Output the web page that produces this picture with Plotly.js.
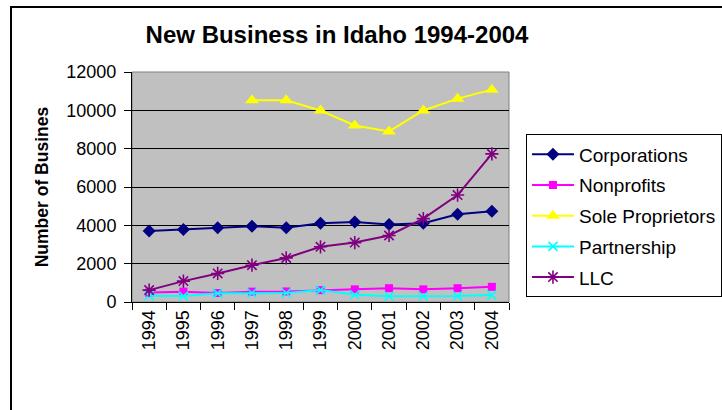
<!DOCTYPE html>
<html>
<head>
<meta charset="utf-8">
<script src="https://cdn.plot.ly/plotly-3.0.1.min.js"></script>
<style>
html,body{margin:0;padding:0;width:722px;height:410px;overflow:hidden;background:#fff;}
#frame{position:absolute;left:10px;top:6px;width:800px;height:500px;border:2px solid #000;box-sizing:border-box;}
#chart{position:absolute;left:0;top:0;width:722px;height:410px;}
</style>
</head>
<body>
<div id="frame"></div>
<div id="chart"></div>
<script>
const years = ["1994","1995","1996","1997","1998","1999","2000","2001","2002","2003","2004"];
const corporations = [3710, 3780, 3880, 3950, 3880, 4110, 4180, 4040, 4110, 4580, 4730];
const nonprofits = [490, 540, 470, 540, 550, 620, 660, 720, 660, 720, 790];
const soleProprietors = [null, null, null, 10520, 10520, 9990, 9210, 8900, 9990, 10610, 11080];
const partnership = [330, 310, 450, 470, 470, 620, 380, 300, 300, 310, 360];
const llc = [620, 1090, 1490, 1920, 2300, 2880, 3100, 3470, 4350, 5580, 7730];

const FONT = '"Liberation Sans", Arial, sans-serif';

function tr(name, y, color, symbol, size, open) {
  return {
    type: 'scatter', mode: 'lines+markers', name: name, x: years, y: y,
    legendgroup: name,
    line: {color: color, width: 2},
    marker: open ? {symbol: symbol, size: size, color: color, line: {color: color, width: 1.6}}
                 : {symbol: symbol, size: size, color: color, line: {width: 0}},
    connectgaps: false
  };
}

const data = [
  tr('Corporations', corporations, '#000080', 'diamond', 10, false),
  tr('Nonprofits', nonprofits, '#FF00FF', 'square', 8, false),
  tr('Sole Proprietors', soleProprietors, '#FFFF00', 'triangle-up', 12, false),
  tr('Partnership', partnership, '#00FFFF', 'x-thin-open', 9, true),
  tr('LLC', llc, '#800080', 'asterisk-open', 11, true)
];

const layout = {
  width: 722, height: 410,
  margin: {l: 132, r: 213, t: 72, b: 108, pad: 0, autoexpand: false},
  paper_bgcolor: 'rgba(0,0,0,0)',
  plot_bgcolor: '#C0C0C0',
  font: {family: FONT, color: '#000', size: 18},
  showlegend: true,
  title: {text: '<b>New Business in Idaho 1994-2004</b>', font: {family: FONT, size: 24, color: '#000'},
          xref: 'container', x: 0.4668, xanchor: 'center', yref: 'container', y: 0.9146, yanchor: 'middle'},
  xaxis: {
    type: 'category', range: [-0.5, 10.5], tickson: 'boundaries',
    ticks: 'outside', ticklen: 7, tickwidth: 1, tickcolor: '#000',
    showline: true, linecolor: '#000', linewidth: 1, showgrid: false, zeroline: false,
    tickangle: -90, tickfont: {family: FONT, size: 18, color: '#000'}
  },
  yaxis: {
    range: [0, 12000], dtick: 2000, tick0: 0, tickformat: 'd',
    ticks: 'outside', ticklen: 7, tickwidth: 1, tickcolor: '#000',
    showline: true, linecolor: '#000', linewidth: 1,
    showgrid: true, gridcolor: '#000', gridwidth: 1, zeroline: false,
    ticklabelstandoff: 4,
    tickfont: {family: FONT, size: 18, color: '#000'}
  },
  shapes: [{type: 'rect', xref: 'paper', yref: 'paper', x0: 0, x1: 1, y0: 0, y1: 1,
            line: {color: '#808080', width: 1}, layer: 'below'}],
  annotations: [{
    text: '<b>Number of Busines</b>', textangle: -90, showarrow: false,
    xref: 'paper', yref: 'paper', x: -0.24, y: 0.501, xanchor: 'center', yanchor: 'middle',
    font: {family: FONT, size: 17.5, color: '#000'}
  }],
  legend: {
    x: 1.045, xanchor: 'left', y: 0.7285, yanchor: 'top',
    bgcolor: '#fff', bordercolor: '#000', borderwidth: 1,
    font: {family: FONT, size: 19, color: '#000'},
    itemwidth: 42, tracegroupgap: 3, traceorder: 'grouped'
  }
};

Plotly.newPlot('chart', data, layout, {displayModeBar: false, staticPlot: true});
</script>
</body>
</html>
